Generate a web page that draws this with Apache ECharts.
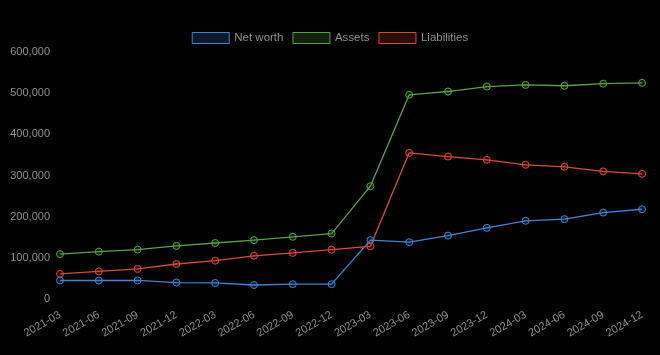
<!DOCTYPE html>
<html>
<head>
<meta charset="utf-8">
<script src="https://cdn.jsdelivr.net/npm/echarts@6/dist/echarts.min.js"></script>
<style>
html,body{margin:0;padding:0;background:#000;}
#chart{width:660px;height:355px;}
</style>
</head>
<body>
<div id="chart"></div>
<script>
const categories = ['2021-03','2021-06','2021-09','2021-12','2022-03','2022-06','2022-09','2022-12','2023-03','2023-06','2023-09','2023-12','2024-03','2024-06','2024-09','2024-12'];
const netWorth = [45000,45000,45000,40000,39000,34000,36000,36000,143000,138000,154000,173000,190000,194000,210000,218000];
const assets = [109000,115000,120000,129000,136000,143000,151000,159000,274000,496000,504000,516000,520000,518000,523000,525000];
const liabilities = [61000,67000,73000,85000,93000,105000,112000,120000,128000,355000,346000,338000,326000,321000,310000,304000];
const yTicks = [0,100000,200000,300000,400000,500000,600000];

const font = 'Liberation Sans, Arial, Helvetica, sans-serif';
const colors = {
  net: {line:'#3b84d6', fill:'rgba(59,132,214,0.2)'},
  assets: {line:'#5c9e4a', fill:'rgba(92,158,74,0.2)'},
  liab: {line:'#d9483b', fill:'rgba(217,72,59,0.2)'}
};

function mk(name, data, c){
  return {
    name: name, type:'line', data: data,
    symbol:'circle', symbolSize:7,
    lineStyle:{color:c.line, width:1.3},
    itemStyle:{color:c.fill, borderColor:c.line, borderWidth:1},
    emphasis:{disabled:true},
    animation:false
  };
}

const chart = echarts.init(document.getElementById('chart'), null, {renderer:'canvas'});
chart.setOption({
  backgroundColor:'#000',
  animation:false,
  legend:{
    top:27, left:'center',
    itemWidth:37, itemHeight:11, itemGap:9,
    icon:'rect',
    textStyle:{color:'#8f8f8f', fontSize:11.5, fontFamily:font},
    data:[
      {name:'Net worth', itemStyle:{color:'rgba(59,132,214,0.2)', borderColor:'#3b84d6', borderWidth:1}},
      {name:'Assets', itemStyle:{color:'rgba(92,158,74,0.2)', borderColor:'#5c9e4a', borderWidth:1}},
      {name:'Liabilities', itemStyle:{color:'rgba(217,72,59,0.2)', borderColor:'#d9483b', borderWidth:1}}
    ]
  },
  grid:{left:60, right:18, top:52, bottom:56, containLabel:false},
  xAxis:{
    type:'category', data:categories, boundaryGap:false,
    axisLine:{show:false}, axisTick:{show:false}, splitLine:{show:false},
    axisLabel:{color:'#8f8f8f', fontSize:11, fontFamily:font, rotate:30, margin:15, interval:0}
  },
  yAxis:{
    type:'value', min:yTicks[0], max:yTicks[yTicks.length-1], interval:100000,
    axisLine:{show:false}, axisTick:{show:false}, splitLine:{show:false},
    axisLabel:{color:'#8f8f8f', fontSize:11, fontFamily:font, margin:10,
      formatter:function(v){return v.toLocaleString('en-US');}}
  },
  series:[
    mk('Net worth', netWorth, colors.net),
    mk('Assets', assets, colors.assets),
    mk('Liabilities', liabilities, colors.liab)
  ]
});
</script>
</body>
</html>
